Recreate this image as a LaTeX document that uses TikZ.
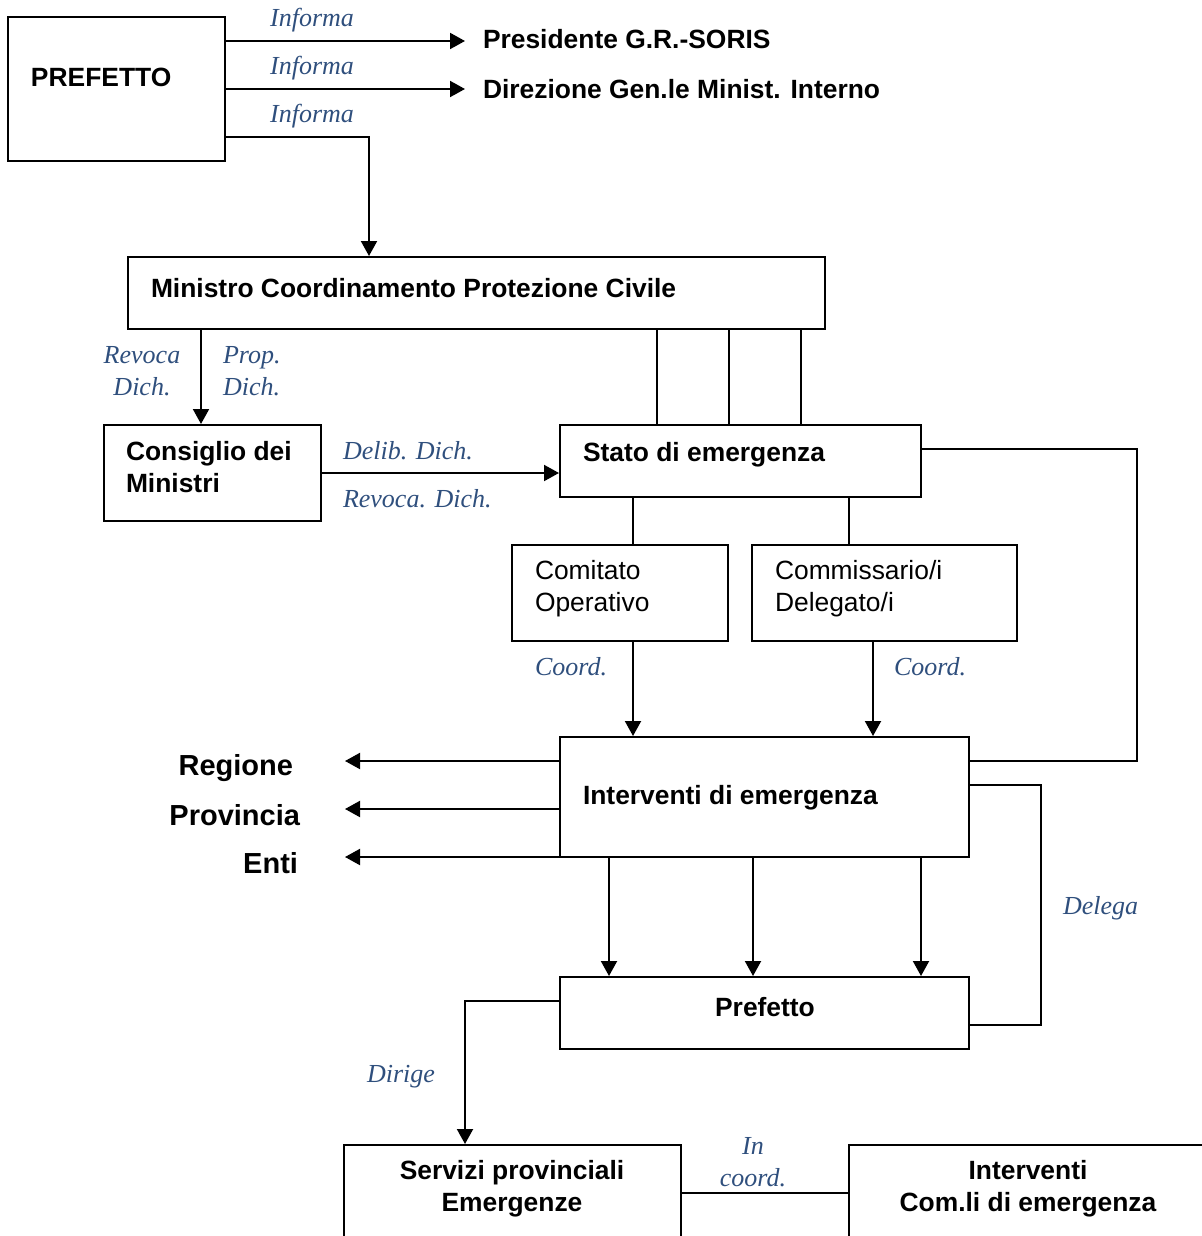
\documentclass[tikz,border=0pt]{standalone}
\usepackage{fontspec}
\setmainfont{Liberation Sans}
\newfontfamily\corsiva{Liberation Serif}
\usetikzlibrary{arrows.meta,fit,calc}
\definecolor{notablue}{RGB}{47,79,125}

\begin{document}
\begin{tikzpicture}[x=0.5pt,y=-0.5pt,line width=1pt,
  box/.style={draw,rectangle,inner sep=0pt},
  txt/.style={font=\fontsize{13.2}{16}\selectfont\bfseries,anchor=west,inner sep=0pt,align=left},
  plain/.style={font=\fontsize{13.2}{16}\selectfont,anchor=west,inner sep=0pt,align=left},
  big/.style={font=\fontsize{14.5}{17}\selectfont\bfseries,anchor=east,inner sep=0pt},
  note/.style={font=\fontsize{13}{16}\selectfont\corsiva\itshape,text=notablue,inner sep=0pt,align=left},
  arr/.style={-{Triangle[length=7.5pt,width=8pt]}}]
\clip (0,0) rectangle (1202,1236);
\useasboundingbox (0,0) rectangle (1202,1236);
% boxes
\node[box,fit={(8,17) (225,161)}] (pref) {};
\node[box,fit={(128,257) (825,329)}] (min) {};
\node[box,fit={(104,425) (321,521)}] (cons) {};
\node[box,fit={(560,425) (921,497)}] (stato) {};
\node[box,fit={(512,545) (728,641)}] (com) {};
\node[box,fit={(752,545) (1017,641)}] (comm) {};
\node[box,fit={(560,737) (969,857)}] (intv) {};
\node[box,fit={(560,977) (969,1049)}] (pre) {};
\node[box,fit={(344,1145) (681,1270)}] (serv) {};
\node[box,fit={(849,1145) (1240,1270)}] (icom) {};
% texts
\node[txt] (prefT) at (30,77) {PREFETTO};
\node[txt] (pres) at (482,39) {Presidente G.R.-SORIS};
\node[txt] (dir) at (482,89) {Direzione Gen.le Minist. Interno};
\node[txt] (minT) at (150,288) {Ministro Coordinamento Protezione Civile};
\node[txt] (consT) at (125,467) {Consiglio dei\\Ministri};
\node[txt] (statoT) at (582,455) {Stato di emergenza};
\node[plain] (comT) at (534,589) {Comitato\\Operativo};
\node[plain] (commT) at (774,589) {Commissario/i\\Delegato/i};
\node[txt] (intT) at (582,798) {Interventi di emergenza};
\node[txt,anchor=center] (preT) at (765,1007) {Prefetto};
\node[txt,anchor=center,align=center] (servT) at (512,1189) {Servizi provinciali\\Emergenze};
\node[txt,anchor=center,align=center] (icT) at (1028,1189) {Interventi\\Com.li di emergenza};
\node[big] (reg) at (294,768) {Regione};
\node[big] (prov) at (301,815) {Provincia};
\node[big] (enti) at (299,863) {Enti};
% labels on the arrows
\foreach \y in {20,68,116}
  \node[note] at (312,\y) {Informa};
\node[note,align=center] (rev) at (142,371) {Revoca\\Dich.};
\node[note,anchor=west] (prop) at (222,371) {Prop.\\Dich.};
\node[note,anchor=west] (delib) at (342,451) {Delib. Dich.};
\node[note,anchor=west] (revd) at (342,499) {Revoca. Dich.};
\node[note,anchor=west] (co1) at (534,667) {Coord.};
\node[note,anchor=west] (co2) at (893,667) {Coord.};
\node[note,anchor=west] (del) at (1062,908) {Delega};
\node[note,anchor=west] (dirg) at (366,1077) {Dirige};
\node[note,align=center] (inc) at (753,1162) {In\\coord.};
% connectors
\coordinate (inf1) at (465,41); \coordinate (inf2) at (465,89);
\coordinate (lft) at (345,0);
\draw[arr] (pref.east |- inf1) -- (inf1);
\draw[arr] (pref.east |- inf2) -- (inf2);
\draw[arr] (pref.east |- 0,137) -| (369,0 |- min.north);
\draw[arr] (201,0 |- min.south) -- (201,0 |- cons.north);
\draw[arr] (cons.east) -- (stato.west |- cons.east);
\foreach \x in {657,729,801}
  \draw (\x,0 |- min.south) -- (\x,0 |- stato.north);
\draw (633,0 |- stato.south) -- (633,0 |- com.north);
\draw (849,0 |- stato.south) -- (849,0 |- comm.north);
\draw[arr] (633,0 |- com.south) -- (633,0 |- intv.north);
\draw[arr] (873,0 |- comm.south) -- (873,0 |- intv.north);
\draw (stato.east |- 0,449) -- (1137,449) |- (intv.east |- 0,761);
\foreach \y in {761,809,857}
  \draw[arr] (intv.west |- 0,\y) -- (lft |- 0,\y);
\foreach \x in {609,753,921}
  \draw[arr] (\x,0 |- intv.south) -- (\x,0 |- pre.north);
\draw (intv.east |- 0,785) -- (1041,785) |- (pre.east |- 0,1025);
\draw[arr] (pre.west |- 0,1001) -| (465,0 |- serv.north);
\draw (serv.east |- 0,1193) -- (icom.west |- 0,1193);
\end{tikzpicture}
\end{document}
